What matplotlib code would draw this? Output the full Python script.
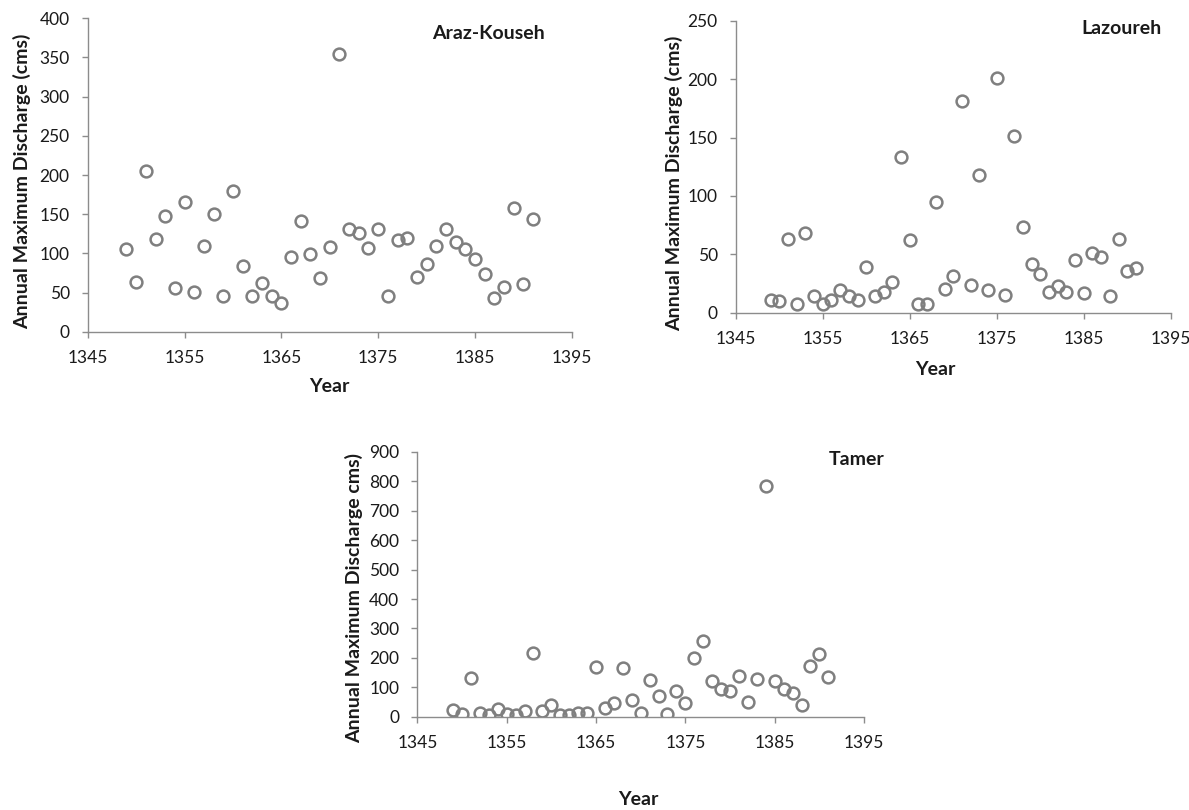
import matplotlib
matplotlib.use('Agg')
import matplotlib.pyplot as plt

plt.rcParams['font.family'] = ['Lato', 'DejaVu Sans']

# Hydrological years (Solar Hijri)
years = list(range(1349, 1392))

# Annual maximum discharge (cms) per station
araz_kouseh = [105, 64, 205, 118, 148, 56, 165, 51, 110, 150,
               45, 179, 84, 46, 62, 45, 37, 95, 141, 99,
               68, 108, 354, 131, 126, 107, 131, 45, 117, 120,
               70, 86, 110, 131, 115, 105, 93, 74, 43, 57,
               158, 61, 144]
lazoureh = [11, 10, 63, 7, 68, 14, 7, 11, 19, 14,
            11, 39, 14, 18, 26, 133, 62, 7, 7, 95,
            20, 31, 181, 24, 118, 19, 201, 15, 151, 73,
            42, 33, 18, 23, 18, 45, 17, 51, 48, 14,
            63, 36, 38]
tamer = [22, 10, 131, 14, 7, 26, 9, 7, 19, 215,
         19, 40, 7, 7, 14, 14, 169, 28, 45, 164,
         57, 14, 126, 71, 9, 88, 45, 200, 259, 121,
         95, 88, 138, 50, 129, 786, 121, 93, 79, 41,
         174, 212, 134]

x_ticks = [1345, 1355, 1365, 1375, 1385, 1395]

grey = '#7f7f7f'
axis_grey = '#8c8c8c'
text_dark = '#1a1a1a'

fig = plt.figure(figsize=(11.89, 8.10), dpi=100)

panels = [
    # data, title, ylabel, y max, y step, axes rect, ylabel pos, xlabel pos, title pos
    (araz_kouseh, 'Araz-Kouseh', 'Annual Maximum Discharge (cms)', 400, 50,
     [0.0738, 0.5905, 0.4071, 0.3869], (-0.135, 0.479), (0.5, -0.175), (0.828, 0.95)),
    (lazoureh, 'Lazoureh', 'Annual Maximum Discharge (cms)', 250, 50,
     [0.6188, 0.6140, 0.3659, 0.3601], (-0.142, 0.445), (0.458, -0.194), (0.887, 0.975)),
    (tamer, 'Tamer', 'Annual Maximum Discharge cms)', 900, 100,
     [0.3510, 0.1152, 0.3757, 0.3268], (-0.142, 0.448), (0.495, -0.311), (0.984, 0.97)),
]

for values, title, ylabel, ymax, ystep, rect, ypos, xpos, tpos in panels:
    ax = fig.add_axes(rect)
    ax.plot(years, values, linestyle='none', marker='o', markersize=8.5,
            markerfacecolor='none', markeredgecolor=grey, markeredgewidth=1.8)

    ax.set_xlim(1345, 1395)
    ax.set_ylim(0, ymax)
    ax.set_xticks(x_ticks)
    ax.set_yticks(range(0, ymax + 1, ystep))

    for side in ['top', 'right']:
        ax.spines[side].set_visible(False)
    for side in ['left', 'bottom']:
        ax.spines[side].set_color(axis_grey)
        ax.spines[side].set_linewidth(1.0)

    ax.tick_params(axis='both', direction='out', length=4, width=1.0,
                   color=axis_grey, labelsize=12.5, labelcolor=text_dark, pad=9)

    ax.set_ylabel(ylabel, fontsize=14, fontweight='bold', color=text_dark)
    ax.yaxis.set_label_coords(*ypos)
    ax.yaxis.label.set_verticalalignment('center')

    ax.set_xlabel('Year', fontsize=14, fontweight='bold', color=text_dark)
    ax.xaxis.set_label_coords(*xpos)
    ax.xaxis.label.set_verticalalignment('center')

    ax.text(tpos[0], tpos[1], title, transform=ax.transAxes, ha='center',
            va='center', fontsize=14, fontweight='bold', color=text_dark)

fig.savefig('out.png', dpi=100, facecolor='white')
